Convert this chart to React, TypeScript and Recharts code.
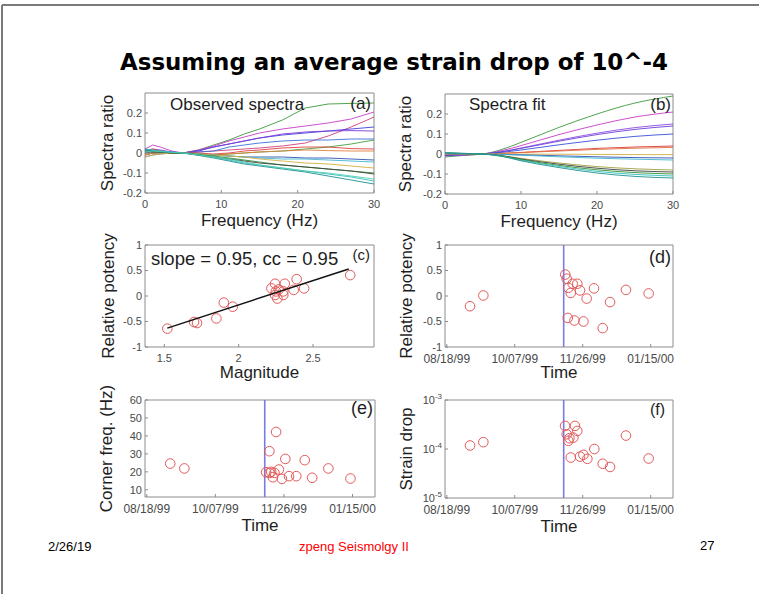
import React from 'react';
import {
  LineChart,
  Line,
  ScatterChart,
  Scatter,
  XAxis,
  YAxis,
  ReferenceLine,
  ReferenceArea,
} from 'recharts';

// ---- (a) observed spectral ratios ----
const freqObs = [0, 1, 2, 3.5, 5, 7, 9, 11, 13, 15, 18, 21, 24, 27, 30];
const obsGreen1 = [-0.01, 0, 0.005, 0.003, 0, 0.015, 0.04, 0.065, 0.095, 0.12, 0.165, 0.225, 0.245, 0.248, 0.25];
const obsMagenta = [0.02, 0.04, 0.03, 0.01, 0, 0.015, 0.035, 0.06, 0.08, 0.1, 0.12, 0.135, 0.15, 0.17, 0.205];
const obsRose = [-0.01, 0, 0, 0, 0, 0.005, 0.01, 0.015, 0.02, 0.025, 0.035, 0.05, 0.085, 0.13, 0.18];
const obsBlue1 = [0, 0.01, 0.01, 0.005, 0, 0.01, 0.03, 0.045, 0.06, 0.075, 0.09, 0.1, 0.11, 0.12, 0.13];
const obsViolet = [0.01, 0.02, 0.015, 0.005, 0, 0.012, 0.03, 0.045, 0.06, 0.075, 0.095, 0.105, 0.11, 0.112, 0.11];
const obsBlue2 = [-0.02, -0.01, -0.005, 0, 0, 0.005, 0.01, 0.03, 0.04, 0.05, 0.06, 0.065, 0.065, 0.07, 0.07];
const obsGreen2 = [0, 0, 0, 0, 0, -0.005, -0.01, -0.005, 0, 0.005, 0.01, 0.02, 0.03, 0.045, 0.065];
const obsRed = [0.01, 0.02, 0.01, 0, 0, 0, -0.005, 0, 0.01, 0.015, 0.025, 0.03, 0.03, 0.022, 0.02];
const obsOrange = [-0.01, 0, 0, 0, 0, -0.005, -0.01, -0.005, 0, 0.005, 0.01, 0.015, 0.012, 0.01, 0.01];
const obsNavy = [0.02, 0.01, 0.005, 0, 0, -0.005, -0.01, -0.015, -0.02, -0.02, -0.02, -0.025, -0.025, -0.03, -0.035];
const obsCyan1 = [0.01, 0.01, 0.005, 0, 0, -0.005, -0.01, -0.015, -0.02, -0.025, -0.03, -0.03, -0.035, -0.04, -0.045];
const obsYellow = [-0.02, -0.01, -0.005, 0, 0, -0.005, -0.01, -0.015, -0.02, -0.03, -0.04, -0.05, -0.055, -0.065, -0.075];
const obsGreen3 = [0.01, 0.01, 0.005, 0, 0, -0.008, -0.015, -0.025, -0.035, -0.045, -0.06, -0.07, -0.08, -0.09, -0.1];
const obsBlack = [0.005, 0.005, 0.005, 0, 0, -0.01, -0.02, -0.03, -0.04, -0.05, -0.06, -0.07, -0.08, -0.09, -0.105];
const obsCyan2 = [0.02, 0.015, 0.01, 0.005, 0, -0.01, -0.02, -0.035, -0.05, -0.06, -0.075, -0.09, -0.105, -0.12, -0.14];
const obsTeal = [0.015, 0.01, 0.005, 0.003, 0, -0.012, -0.025, -0.04, -0.055, -0.065, -0.08, -0.095, -0.115, -0.135, -0.155];
const obsAqua = [0.005, 0.01, 0.008, 0.003, 0, -0.01, -0.02, -0.03, -0.045, -0.06, -0.075, -0.09, -0.1, -0.115, -0.13];

const obsSeries = [
  { values: obsGreen1, color: '#3c9a3c' },
  { values: obsMagenta, color: '#c83cc8' },
  { values: obsRose, color: '#d0407a' },
  { values: obsBlue1, color: '#4040e0' },
  { values: obsViolet, color: '#7a3ad8' },
  { values: obsBlue2, color: '#3a70d8' },
  { values: obsGreen2, color: '#40a040' },
  { values: obsRed, color: '#e04040' },
  { values: obsOrange, color: '#e08040' },
  { values: obsNavy, color: '#3050b0' },
  { values: obsCyan1, color: '#40b8d0' },
  { values: obsYellow, color: '#d0b040' },
  { values: obsGreen3, color: '#309030' },
  { values: obsBlack, color: '#404040' },
  { values: obsCyan2, color: '#30c0c0' },
  { values: obsTeal, color: '#209090' },
  { values: obsAqua, color: '#50d0b0' },
];

// ---- (b) fitted spectral ratios ----
const freqFit = [0, 2.5, 5, 7.5, 10, 15, 20, 25, 30];
const fitGreen1 = [-0.015, -0.007, 0, 0.023, 0.058, 0.133, 0.2, 0.255, 0.29];
const fitMagenta = [-0.01, -0.005, 0, 0.017, 0.042, 0.097, 0.145, 0.185, 0.21];
const fitViolet = [-0.008, -0.004, 0, 0.012, 0.03, 0.069, 0.104, 0.132, 0.15];
const fitPurple = [-0.007, -0.0035, 0, 0.011, 0.028, 0.064, 0.097, 0.123, 0.14];
const fitBlue = [-0.005, -0.0025, 0, 0.008, 0.02, 0.046, 0.069, 0.088, 0.1];
const fitRed = [-0.002, -0.001, 0, 0.003, 0.008, 0.018, 0.028, 0.035, 0.04];
const fitOrange = [-0.002, -0.001, 0, 0.003, 0.007, 0.015, 0.023, 0.029, 0.033];
const fitYellow = [0, 0, 0, 0, -0.001, -0.001, -0.002, -0.003, -0.003];
const fitNavy = [0.001, 0.0005, 0, -0.002, -0.004, -0.009, -0.014, -0.018, -0.02];
const fitCyan1 = [0.0015, 0.001, 0, -0.002, -0.006, -0.014, -0.021, -0.026, -0.03];
const fitOlive = [0.004, 0.002, 0, -0.008, -0.022, -0.045, -0.063, -0.074, -0.08];
const fitBlack = [0.0045, 0.002, 0, -0.009, -0.025, -0.051, -0.071, -0.084, -0.09];
const fitGreen2 = [0.005, 0.0025, 0, -0.01, -0.028, -0.057, -0.079, -0.093, -0.1];
const fitCyan2 = [0.0055, 0.003, 0, -0.011, -0.031, -0.062, -0.087, -0.102, -0.11];
const fitTeal = [0.006, 0.003, 0, -0.012, -0.034, -0.068, -0.095, -0.112, -0.12];

const fitSeries = [
  { values: fitGreen1, color: '#3c9a3c' },
  { values: fitMagenta, color: '#c83cc8' },
  { values: fitViolet, color: '#8a4ae0' },
  { values: fitPurple, color: '#6a40d8' },
  { values: fitBlue, color: '#3a50d8' },
  { values: fitRed, color: '#d83a3a' },
  { values: fitOrange, color: '#e07040' },
  { values: fitYellow, color: '#d0b040' },
  { values: fitNavy, color: '#3050b0' },
  { values: fitCyan1, color: '#40b8d0' },
  { values: fitOlive, color: '#a0a040' },
  { values: fitBlack, color: '#404040' },
  { values: fitGreen2, color: '#309030' },
  { values: fitCyan2, color: '#30c0c0' },
  { values: fitTeal, color: '#209090' },
];

const ratioTicks = [-0.2, -0.1, 0, 0.1, 0.2];
const freqTicks = [0, 10, 20, 30];

// ---- (c) potency vs magnitude ----
const magnitude = [1.52, 1.7, 1.72, 1.85, 1.9, 1.96, 2.22, 2.245, 2.245, 2.26, 2.25, 2.27, 2.3, 2.31, 2.3, 2.37, 2.39, 2.44, 2.75];
const potencyC = [-0.64, -0.51, -0.53, -0.44, -0.13, -0.21, 0.15, 0.24, 0.02, -0.05, 0.09, 0.13, 0.02, 0.24, 0.09, 0.12, 0.33, 0.15, 0.41];
const fitMag = [1.52, 2.74];
const fitPot = [-0.63, 0.53];
const magTicks = [1.5, 2, 2.5];
const potTicks = [-1, -0.5, 0, 0.5, 1];

// ---- (d)-(f) against time (days after 08/18/99) ----
const dateTicks = [0, 50, 100, 150];
const dateLabels = ['08/18/99', '10/07/99', '11/26/99', '01/15/00'];
const mainshockDay = 86;

const daysD = [17.1, 26.9, 87.2, 88.2, 89.4, 91.2, 92.6, 96.0, 98.0, 102.9, 108.3, 89.0, 93.9, 100.5, 114.7, 120.1, 131.8, 148.5];
const potencyD = [-0.2, 0.01, 0.42, 0.34, 0.16, 0.06, 0.24, 0.24, 0.11, -0.05, 0.15, -0.43, -0.48, -0.5, -0.63, -0.12, 0.12, 0.05];

const daysE = [17.1, 27.4, 87, 89.4, 89.4, 90.7, 91.9, 93.1, 94.3, 96.3, 98.5, 101, 103.7, 109, 115.2, 120.6, 132.4, 148.5];
const cornerE = [24.6, 21.9, 19.8, 31.5, 19.4, 20, 17.0, 19.4, 42.2, 21.3, 16.1, 27.2, 17.6, 17.6, 26.5, 16.7, 21.9, 16.3];
const cornerTicks = [10, 20, 30, 40, 50, 60];

const daysF = [17.1, 26.9, 87, 88.2, 89.4, 90.2, 93.1, 91.2, 94.3, 96, 98, 100.5, 103.4, 108.5, 114.7, 120.1, 131.8, 148.5];
const strainF = [1.18e-4, 1.38e-4, 2.96e-4, 2.0e-4, 1.47e-4, 1.66e-4, 1.71e-4, 6.7e-5, 2.96e-4, 2.34e-4, 7.0e-5, 7.6e-5, 6.3e-5, 1.0e-4, 5.0e-5, 4.3e-5, 1.88e-4, 6.4e-5];
const strainTicks = [1e-5, 1e-4, 1e-3];

// tables for recharts
const obsRows = freqObs.map((f, i) => {
  const row: any = { f };
  obsSeries.forEach((s, k) => (row['s' + k] = s.values[i]));
  return row;
});
const fitRows = freqFit.map((f, i) => {
  const row: any = { f };
  fitSeries.forEach((s, k) => (row['s' + k] = s.values[i]));
  return row;
});
const zip = (xs: number[], ys: number[]) => xs.map((x, i) => ({ x, y: ys[i] }));

const FONT = '"Liberation Sans", Arial, sans-serif';
const BOX = '#8c8c8c';
const TICK = '#4a4a4a';
const LABEL = '#1e1e1e';
const RING = '#e25a5a';
const EVENT = '#7a7ae6';

// plot frame: y-axis width, top margin, right margin, x-axis height
const YW = 60;
const MT = 25;
const MR = 12;
const XH = 40;

const ring = (p: any) => (
  <circle cx={p.cx} cy={p.cy} r={4.8} fill="none" stroke={RING} strokeWidth={1} />
);

const LogTick = (p: any) => {
  const exp = Math.round(Math.log10(p.payload.value));
  return (
    <text x={p.x} y={p.y} dy={4} textAnchor="end" fontSize={11} fill={TICK} fontFamily={FONT}>
      10<tspan dy={-5} fontSize={8}>{exp}</tspan>
    </text>
  );
};

const tickStyle = { fontSize: 11, fill: TICK, fontFamily: FONT };
const dateTickStyle = { fontSize: 12, fill: TICK, fontFamily: FONT };
// matlab-style ticks point into the box
const xTickProps = { tickSize: -3, tickMargin: 10, tickLine: { stroke: BOX }, axisLine: false, interval: 0 as const };
const yTickProps = { tickSize: -3, tickMargin: 6, tickLine: { stroke: BOX }, axisLine: false, interval: 0 as const };

const xLabel = (value: string, offset: number) => ({
  value,
  position: 'insideBottom' as const,
  offset,
  fontSize: 17,
  fill: LABEL,
  fontFamily: FONT,
});
const yLabel = (value: string, offset: number) => ({
  value,
  angle: -90,
  position: 'insideLeft' as const,
  offset,
  fontSize: 17,
  fill: LABEL,
  fontFamily: FONT,
  style: { textAnchor: 'middle' },
});

const place = (left: number, top: number): React.CSSProperties => ({
  position: 'absolute',
  left: left - YW,
  top: top - MT,
});

function SpectraPanel({ left, top, w, h, rows, series, smooth, label }: any) {
  return (
    <div style={place(left, top)}>
      <LineChart width={YW + w + MR} height={MT + h + XH} data={rows} margin={{ top: MT, right: MR, left: 0, bottom: 0 }}>
        <XAxis type="number" dataKey="f" domain={[0, 30]} ticks={freqTicks} height={XH}
          {...xTickProps} tick={tickStyle} label={xLabel('Frequency (Hz)', 7)} />
        <YAxis type="number" domain={[-0.2, 0.3]} ticks={ratioTicks} width={YW}
          {...yTickProps} tick={tickStyle} label={yLabel('Spectra ratio', label)} />
        {series.map((s: any, k: number) => (
          <Line key={k} dataKey={'s' + k} type={smooth ? 'monotone' : 'linear'} stroke={s.color}
            strokeWidth={0.9} dot={false} isAnimationActive={false} />
        ))}
        <ReferenceArea x1={0} x2={30} y1={-0.2} y2={0.3} fill="none" stroke={BOX} strokeWidth={1} />
      </LineChart>
    </div>
  );
}

function TimePanel({ left, top, w, h, points, yDomain, yTicks, yTitle, log, xOffset, tick }: any) {
  return (
    <div style={place(left, top)}>
      <ScatterChart width={YW + w + MR} height={MT + h + XH} margin={{ top: MT, right: MR, left: 0, bottom: 0 }}>
        <XAxis type="number" dataKey="x" domain={[-1.3, 166.4]} ticks={dateTicks} height={XH}
          {...xTickProps} tick={dateTickStyle}
          tickFormatter={(v: number) => dateLabels[dateTicks.indexOf(v)]} label={xLabel('Time', xOffset)} />
        <YAxis type="number" dataKey="y" domain={yDomain} ticks={yTicks} width={YW}
          scale={log ? 'log' : 'auto'} allowDataOverflow
          {...yTickProps} tick={tick || tickStyle} label={yLabel(yTitle, 21)} />
        <ReferenceLine x={mainshockDay} stroke={EVENT} strokeWidth={1.6} />
        <Scatter data={points} shape={ring} isAnimationActive={false} />
        <ReferenceArea x1={-1.3} x2={166.4} y1={yDomain[0]} y2={yDomain[1]} fill="none" stroke={BOX} strokeWidth={1} />
      </ScatterChart>
    </div>
  );
}

export default function App() {
  return (
    <div style={{ position: 'absolute', left: 0, top: 0, width: 759, height: 594, background: '#fff', fontFamily: FONT }}>
      <SpectraPanel left={145} top={93} w={229} h={100} rows={obsRows} series={obsSeries} smooth={false} label={22} />
      <SpectraPanel left={445} top={94} w={228} h={100} rows={fitRows} series={fitSeries} smooth label={20} />

      <div style={place(145, 245)}>
        <ScatterChart width={YW + 229 + MR} height={MT + 102 + XH} margin={{ top: MT, right: MR, left: 0, bottom: 0 }}>
          <XAxis type="number" dataKey="x" domain={[1.37, 2.91]} ticks={magTicks} height={XH}
            {...xTickProps} tick={tickStyle} label={xLabel('Magnitude', 9)} />
          <YAxis type="number" dataKey="y" domain={[-1, 1]} ticks={potTicks} width={YW}
            {...yTickProps} tick={tickStyle} label={yLabel('Relative potency', 23)} />
          <Scatter data={zip(magnitude, potencyC)} shape={ring} isAnimationActive={false} />
          <Scatter data={zip(fitMag, fitPot)} line={{ stroke: '#111', strokeWidth: 1.4 }} shape={() => null} isAnimationActive={false} />
          <ReferenceArea x1={1.37} x2={2.91} y1={-1} y2={1} fill="none" stroke={BOX} strokeWidth={1} />
        </ScatterChart>
      </div>

      <TimePanel left={445} top={245} w={228} h={102} points={zip(daysD, potencyD)} yDomain={[-1, 1]}
        yTicks={potTicks} yTitle="Relative potency" xOffset={9} />
      <TimePanel left={145} top={400} w={230} h={97} points={zip(daysE, cornerE)} yDomain={[6, 60]}
        yTicks={cornerTicks} yTitle="Corner freq. (Hz)" xOffset={6} />
      <TimePanel left={445} top={400} w={228} h={98} points={zip(daysF, strainF)} yDomain={[1e-5, 1e-3]}
        yTicks={strainTicks} yTitle="Strain drop" xOffset={6} log tick={<LogTick />} />

      <svg width={759} height={594} style={{ position: 'absolute', left: 0, top: 0, pointerEvents: 'none' }}>
        <line x1={2} y1={5} x2={759} y2={5} stroke="#7a7a7a" strokeWidth={2} />
        <line x1={2} y1={5} x2={2} y2={594} stroke="#7a7a7a" strokeWidth={2} />
        <text x={120} y={70} fontSize={23} fontWeight="bold" fontFamily='"DejaVu Sans", sans-serif'
          textLength={548} lengthAdjust="spacingAndGlyphs" fill="#000">
          Assuming an average strain drop of 10^-4
        </text>

        <g fontFamily={FONT} fill="#1e1e1e">
          <text x={170} y={110} fontSize={17}>Observed spectra</text>
          <text x={371} y={109} fontSize={17} textAnchor="end">(a)</text>
          <text x={469} y={110} fontSize={17}>Spectra fit</text>
          <text x={671} y={110} fontSize={17} textAnchor="end">(b)</text>
          <text x={151} y={265} fontSize={18.5}>slope = 0.95, cc = 0.95</text>
          <text x={370} y={260} fontSize={15} textAnchor="end">(c)</text>
          <text x={671} y={263} fontSize={18} textAnchor="end">(d)</text>
          <text x={373} y={414} fontSize={18} textAnchor="end">(e)</text>
          <text x={665} y={415} fontSize={16} textAnchor="end">(f)</text>
        </g>

        <g fontFamily={FONT} fontSize={13}>
          <text x={48} y={551} fill="#000">2/26/19</text>
          <text x={354} y={551} fill="#ff0000" textAnchor="middle">zpeng Seismolgy II</text>
          <text x={700} y={550} fill="#000">27</text>
        </g>
      </svg>
    </div>
  );
}
